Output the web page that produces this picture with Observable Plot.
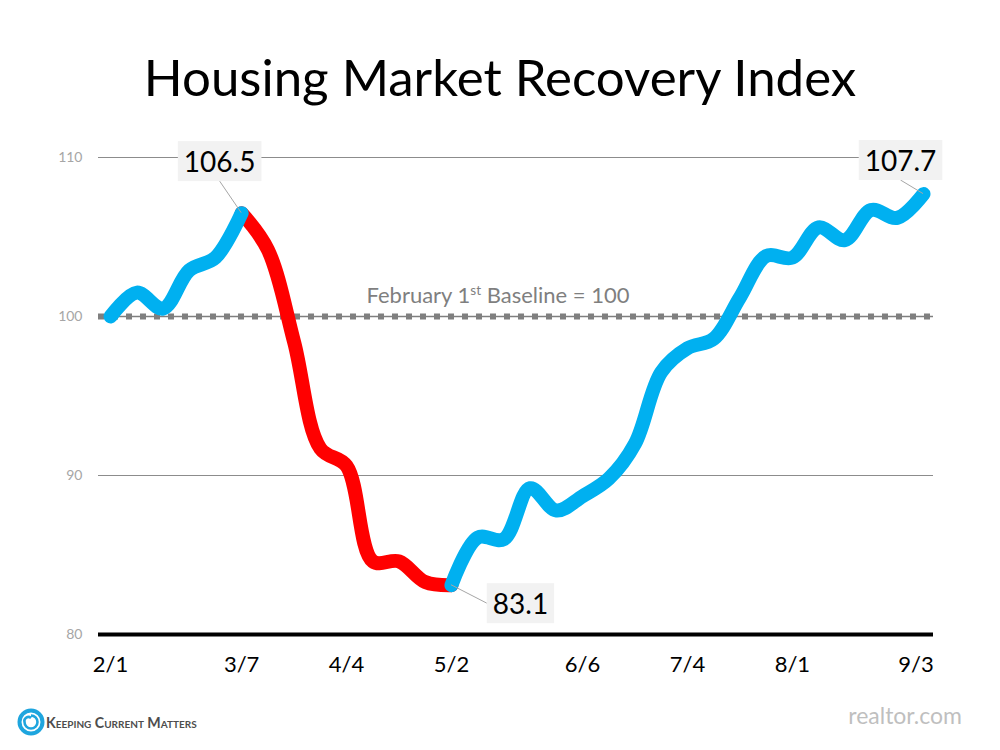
<!DOCTYPE html>
<html>
<head>
<meta charset="utf-8">
<script src="https://cdn.jsdelivr.net/npm/d3@7"></script>
<script src="https://cdn.jsdelivr.net/npm/@observablehq/plot@0.6"></script>
<style>
  html, body { margin: 0; padding: 0; background: #fff; }
  body { width: 1000px; height: 750px; overflow: hidden; position: relative; font-family: Lato, "Open Sans", sans-serif; }
  #title { position: absolute; left: 0; top: 51px; width: 1000px; text-align: center; font-size: 51px; line-height: 1; color: #000; }
  #chart { position: absolute; left: 0; top: 110px; }
  #kcm { position: absolute; left: 17px; top: 708px; display: flex; align-items: center; }
  #kcm span { margin-left: 1px; font-size: 14.2px; font-weight: bold; font-variant: small-caps; color: #4d4d4d; letter-spacing: 0; }
  #src { position: absolute; right: 38px; top: 701px; font-size: 23px; color: #bfbfbf; }
</style>
</head>
<body>
<div id="title">Housing Market Recovery Index</div>
<div id="chart"></div>
<div id="kcm">
  <svg width="28" height="28" viewBox="0 0 28 28">
    <circle cx="14" cy="14" r="11.5" fill="none" stroke="#1ea5de" stroke-width="4"/>
    <path d="M14 7.5 A6.5 6.5 0 1 1 7.5 14 A4 4 0 0 1 14 10" fill="none" stroke="#1ea5de" stroke-width="2.6"/>
  </svg>
  <span>Keeping Current Matters</span>
</div>
<div id="src">realtor.com</div>
<script>
// ---- data ----
const weeks = [
  "2020-02-01","2020-02-08","2020-02-15","2020-02-22","2020-02-29",
  "2020-03-07","2020-03-14","2020-03-21","2020-03-28","2020-04-04",
  "2020-04-11","2020-04-18","2020-04-25","2020-05-02","2020-05-09",
  "2020-05-16","2020-05-23","2020-05-30","2020-06-06","2020-06-13",
  "2020-06-20","2020-06-27","2020-07-04","2020-07-11","2020-07-18",
  "2020-07-25","2020-08-01","2020-08-08","2020-08-15","2020-08-22",
  "2020-08-29","2020-09-05"
];
const values = [
  100.0, 101.5, 100.5, 102.9, 103.7,
  106.5, 104.2, 98.4, 91.7, 90.6,
  84.6, 84.6, 83.3, 83.1, 86.1,
  86.0, 89.2, 87.8, 88.7, 89.8,
  92.0, 96.5, 98.0, 98.6, 101.2,
  103.8, 103.7, 105.6, 104.8, 106.7,
  106.2, 107.7
];
const tickLabels = ["2020-02-01","2020-03-07","2020-04-04","2020-05-02","2020-06-06","2020-07-04","2020-08-01","2020-09-03"];
const yTicks = [80, 90, 100, 110];
const baselineValue = 100;
const declineStart = "2020-03-07";
const declineEnd = "2020-05-02";
const calloutWeeks = ["2020-03-07", "2020-05-02", "2020-09-05"];

// ---- presentation config ----
const blue = "#00b0f0", red = "#ff0000";
const calloutStyle = [
  {dx: -22, dy: -50, anchor: "bottom"},
  {dx: 69, dy: 20, anchor: "left"},
  {dx: -23, dy: -32, anchor: "bottom"}
];

const parse = d3.utcParse("%Y-%m-%d");
const data = weeks.map((w, i) => ({date: parse(w), value: values[i]}));
const s = parse(declineStart), e = parse(declineEnd);
const seg1 = data.filter(d => d.date <= s);
const seg2 = data.filter(d => d.date >= s && d.date <= e);
const seg3 = data.filter(d => d.date >= e);
const callouts = calloutWeeks.map(w => data.find(d => +d.date === +parse(w)));
const fmt = d3.format(".1f");

const lineOpts = {x: "date", y: "value", strokeWidth: 14, curve: "catmull-rom", strokeLinecap: "round", strokeLinejoin: "round"};

const plot = Plot.plot({
  width: 1000,
  height: 580,
  marginLeft: 98,
  marginRight: 67,
  marginTop: 47,
  marginBottom: 56,
  style: {fontFamily: "Lato, 'Open Sans', sans-serif", background: "transparent", overflow: "visible"},
  x: {
    type: "utc",
    domain: [d3.utcHour.offset(data[0].date, -77), d3.utcHour.offset(data[data.length - 1].date, 64)],
    label: null
  },
  y: {domain: [80, 110], label: null},
  marks: [
    Plot.ruleY(yTicks.filter(t => t !== 80 && t !== baselineValue), {stroke: "#8c8c8c", strokeWidth: 1}),
    Plot.ruleY([baselineValue], {stroke: "#7f7f7f", strokeWidth: 1.5}),
    Plot.ruleY([baselineValue], {stroke: "#7f7f7f", strokeWidth: 6, strokeDasharray: "6,8"}),
    Plot.ruleY([80], {stroke: "#000", strokeWidth: 4}),
    Plot.axisY({ticks: yTicks, tickSize: 0, tickPadding: 16, fontSize: 14, fill: "#a6a6a6", label: null}),
    Plot.axisX({ticks: tickLabels.map(parse), tickFormat: d3.utcFormat("%-m/%-d"), tickSize: 0, tickPadding: 22, fontSize: 22, fill: "#000", label: null}),
    Plot.text(["February 1st Baseline = 100"], {y: () => baselineValue, text: d => d, frameAnchor: "middle", dx: -18, dy: -14, lineAnchor: "bottom", fontSize: 22, fill: "#7f7f7f", ariaDescription: "baseline-label"}),
    Plot.line(seg2, {...lineOpts, stroke: red}),
    Plot.line(seg1, {...lineOpts, stroke: blue}),
    Plot.line(seg3, {...lineOpts, stroke: blue}),
    ...callouts.map((c, i) => Plot.text([c], {
      x: "date", y: "value", text: d => fmt(d.value),
      dx: calloutStyle[i].dx, dy: calloutStyle[i].dy,
      fontSize: 28, fill: "#000", textAnchor: "middle", lineAnchor: "middle",
      ariaDescription: "callout-" + i
    }))
  ]
});

document.getElementById("chart").append(plot);

// superscript in baseline label
const bl = plot.querySelector('g[aria-description="baseline-label"] text');
if (bl) {
  const t = d3.select(bl);
  t.text(null);
  t.append("tspan").text("February 1");
  t.append("tspan").attr("font-size", "0.62em").attr("dy", -8).text("st");
  t.append("tspan").attr("dy", 8).text(" Baseline = 100");
}

// callout boxes and leader lines
const sx = plot.scale("x"), sy = plot.scale("y");
const svgRect = plot.getBoundingClientRect();
callouts.forEach((c, i) => {
  const g = plot.querySelector(`g[aria-description="callout-${i}"]`);
  if (!g) return;
  const txt = g.querySelector("text");
  const r = txt.getBoundingClientRect();
  const bx = r.left - svgRect.left - 6, by = r.top - svgRect.top - 3;
  const bw = r.width + 12, bh = r.height + 6;
  const ns = "http://www.w3.org/2000/svg";
  const rect = document.createElementNS(ns, "rect");
  rect.setAttribute("x", bx); rect.setAttribute("y", by);
  rect.setAttribute("width", bw); rect.setAttribute("height", bh);
  rect.setAttribute("fill", "#f2f2f2");
  plot.insertBefore(rect, g);
  const px = sx.apply(c.date), py = sy.apply(c.value);
  let ex, ey;
  if (calloutStyle[i].anchor === "bottom") { ex = bx + bw / 2; ey = by + bh; }
  else { ex = bx; ey = by + bh / 2; }
  const line = document.createElementNS(ns, "line");
  line.setAttribute("x1", px); line.setAttribute("y1", py);
  line.setAttribute("x2", ex); line.setAttribute("y2", ey);
  line.setAttribute("stroke", "#a6a6a6"); line.setAttribute("stroke-width", 1);
  plot.insertBefore(line, rect);
});
</script>
</body>
</html>
